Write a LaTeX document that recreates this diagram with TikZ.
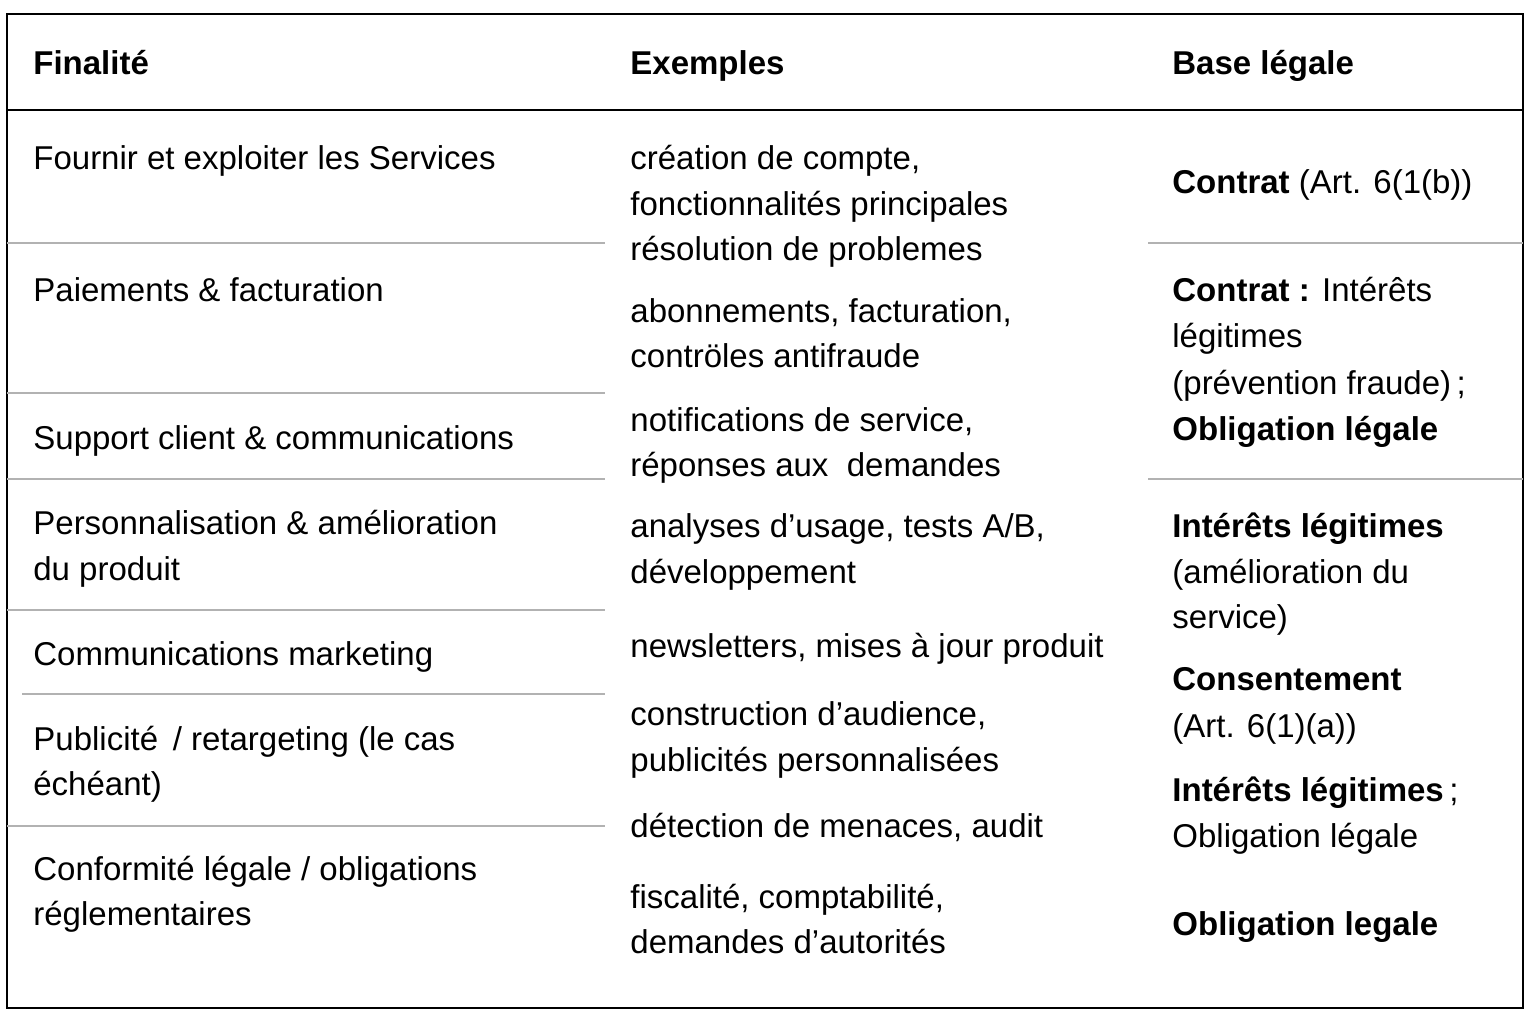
\documentclass[tikz,border=0pt]{standalone}
\usepackage{fontspec}
\setmainfont{Liberation Sans}
\begin{document}
\begin{tikzpicture}[x=0.5pt,y=-0.5pt,
  t/.style={anchor=base west,inner sep=0pt,font=\fontsize{16.5}{20}\selectfont},
  b/.style={t,font=\fontsize{16.5}{20}\selectfont\bfseries},
  sep/.style={draw=black!30,line width=0.6pt}]
\useasboundingbox (0,0) rectangle (1536,1024);
\fill[white] (0,0) rectangle (1536,1024);
\draw[line width=1.2pt] (7,14) rectangle (1523,1008);
\draw[line width=1.2pt] (7,110) -- (1523,110);
\foreach \y/\a/\b in {243/7/605,393/7/605,479/7/605,610/7/605,694/22/605,826/7/605,243/1148/1523,479/1148/1523}
  \draw[sep] (\a,\y) -- (\b,\y);
% headers
\node[b] (h1) at (33,74) {Finalité};
\node[b] (h2) at (630,74) {Exemples};
\node[b] (h3) at (1172,74) {Base légale};
% column 1
\node[t] (a1) at (33,169) {Fournir et exploiter les Services};
\node[t] (a2) at (33,301) {Paiements \& facturation};
\node[t] (a3) at (33,449) {Support client \& communications};
\node[t] (a4) at (33,534) {Personnalisation \& amélioration};
\node[t] (a4b) at (33,580) {du produit};
\node[t] (a5) at (33,665) {Communications marketing};
\node[t] (a6) at (33,750) {Publicité\, / retargeting (le cas};
\node[t] (a6b) at (33,795) {échéant)};
\node[t] (a7) at (33,880) {Conformité légale / obligations};
\node[t] (a7b) at (33,925) {réglementaires};
% column 2
\node[t] (e1) at (630,169) {création de compte,};
\node[t] (e2) at (630,215) {fonctionnalités principales};
\node[t] (e3) at (630,260) {résolution de problemes};
\node[t] (e4) at (630,322) {abonnements, facturation,};
\node[t] (e5) at (630,367) {contröles antifraude};
\node[t] (e6) at (630,431) {notifications de service,};
\node[t] (e7) at (630,476) {réponses aux\ \ demandes};
\node[t] (e8) at (630,537) {analyses d’usage, tests A/B,};
\node[t] (e9) at (630,583) {développement};
\node[t] (e10) at (630,657) {newsletters, mises à jour produit};
\node[t] (e11) at (630,725) {construction d’audience,};
\node[t] (e12) at (630,771) {publicités personnalisées};
\node[t] (e13) at (630,837) {détection de menaces, audit};
\node[t] (e14) at (630,908) {fiscalité, comptabilité,};
\node[t] (e15) at (630,953) {demandes d’autorités};
% column 3
\node[t] (r1) at (1172,193) {\textbf{Contrat} (Art. 6(1(b))};
\node[t] (r2) at (1172,301) {\textbf{Contrat :} Intérêts};
\node[t] (r3) at (1172,347) {légitimes};
\node[t] (r4) at (1172,394) {(prévention fraude)\,;};
\node[b] (r5) at (1172,440) {Obligation légale};
\node[b] (r6) at (1172,537) {Intérêts légitimes};
\node[t] (r7) at (1172,583) {(amélioration du};
\node[t] (r8) at (1172,628) {service)};
\node[b] (r9) at (1172,690) {Consentement};
\node[t] (r10) at (1172,737) {(Art. 6(1)(a))};
\node[t] (r11) at (1172,801) {\textbf{Intérêts légitimes}\,;};
\node[t] (r12) at (1172,847) {Obligation légale};
\node[b] (r13) at (1172,935) {Obligation legale};
\end{tikzpicture}
\end{document}
